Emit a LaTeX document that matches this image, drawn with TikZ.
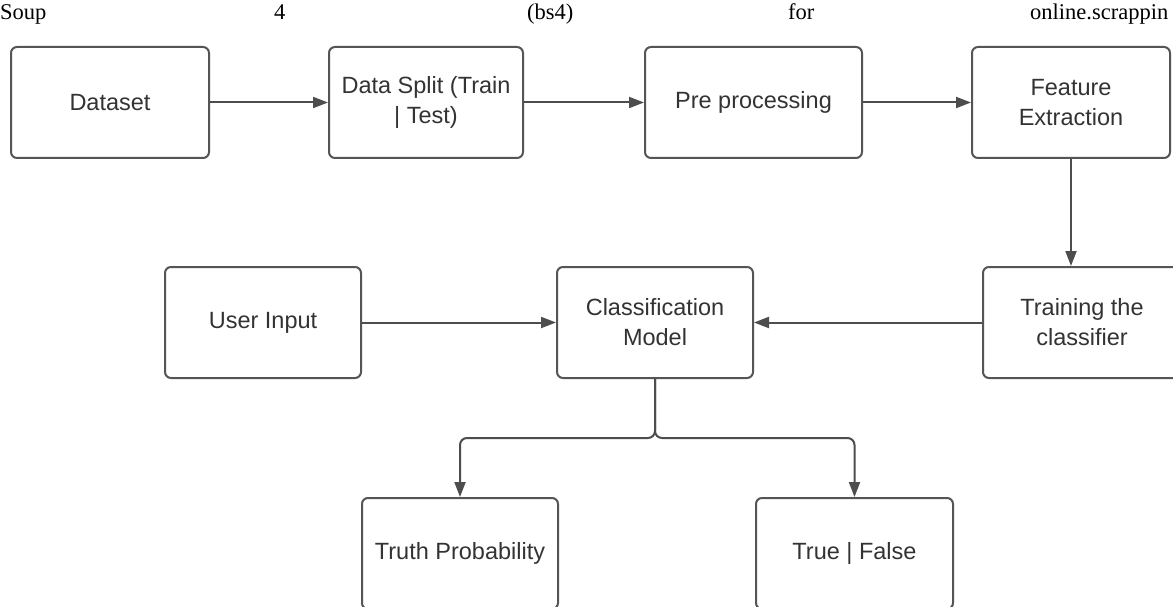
\documentclass[tikz,border=0pt]{standalone}
\usepackage{fontspec}
\setmainfont{Liberation Serif}
\newfontfamily\boxfont{Liberation Sans}
\usetikzlibrary{arrows.meta}
\definecolor{boxgray}{HTML}{555555}
\definecolor{textgray}{HTML}{333333}
\definecolor{linegray}{HTML}{4D4D4D}
\begin{document}
\begin{tikzpicture}[x=1pt,y=-1pt,
  box/.style={draw=boxgray, line width=2pt, rounded corners=6pt, fill=white,
    text=textgray, font=\boxfont\fontsize{23.5}{30}\selectfont, align=center,
    inner sep=0pt, minimum height=111pt},
  conn/.style={draw=linegray, line width=2pt, -{Triangle[length=15pt,width=11pt]}},
  head/.style={anchor=base west, inner sep=0pt, font=\fontsize{22.5}{26}\selectfont}
]
\useasboundingbox (0,0) rectangle (1173,607);
\clip (0,0) rectangle (1173,607);
\fill[white] (0,0) rectangle (1173,607);

% header words
\node[head] (h1) at (0,20) {Soup};
\node[head] (h2) at (274,20) {4};
\node[head] (h3) at (527,20) {(bs4)};
\node[head] (h4) at (788,20) {for};
\node[head] (h5) at (1030,20) {online.scrappin};

% boxes
\node[box, minimum width=198pt] (ds)    at (110,102.5)   {Dataset};
\node[box, minimum width=194pt] (split) at (426,102.5)   {Data Split (Train\\| Test)};
\node[box, minimum width=217pt] (pre)   at (753.5,102.5) {Pre processing};
\node[box, minimum width=198pt] (feat)  at (1071,102.5)  {Feature\\Extraction};
\node[box, minimum width=198pt] (train) at (1082,322.5)  {Training the\\classifier};
\node[box, minimum width=196pt] (cls)   at (655,322.5)   {Classification\\Model};
\node[box, minimum width=196pt] (user)  at (263,322.5)   {User Input};
\node[box, minimum width=196pt] (truth) at (460,553.5)   {Truth Probability};
\node[box, minimum width=197pt] (tf)    at (854.5,553.5) {True | False};

\coordinate (j) at (655,438);

% connectors
\draw[conn] (ds) -- (split);
\draw[conn] (split) -- (pre);
\draw[conn] (pre) -- (feat);
\draw[conn] (feat.south) -- (feat.south |- train.north);
\draw[conn] (train) -- (cls);
\draw[conn] (user) -- (cls);
\draw[conn, rounded corners=7pt] (cls.south) -- (j) -| (truth.north);
\draw[conn, rounded corners=7pt] (cls.south) -- (j) -| (tf.north);
\end{tikzpicture}
\end{document}
